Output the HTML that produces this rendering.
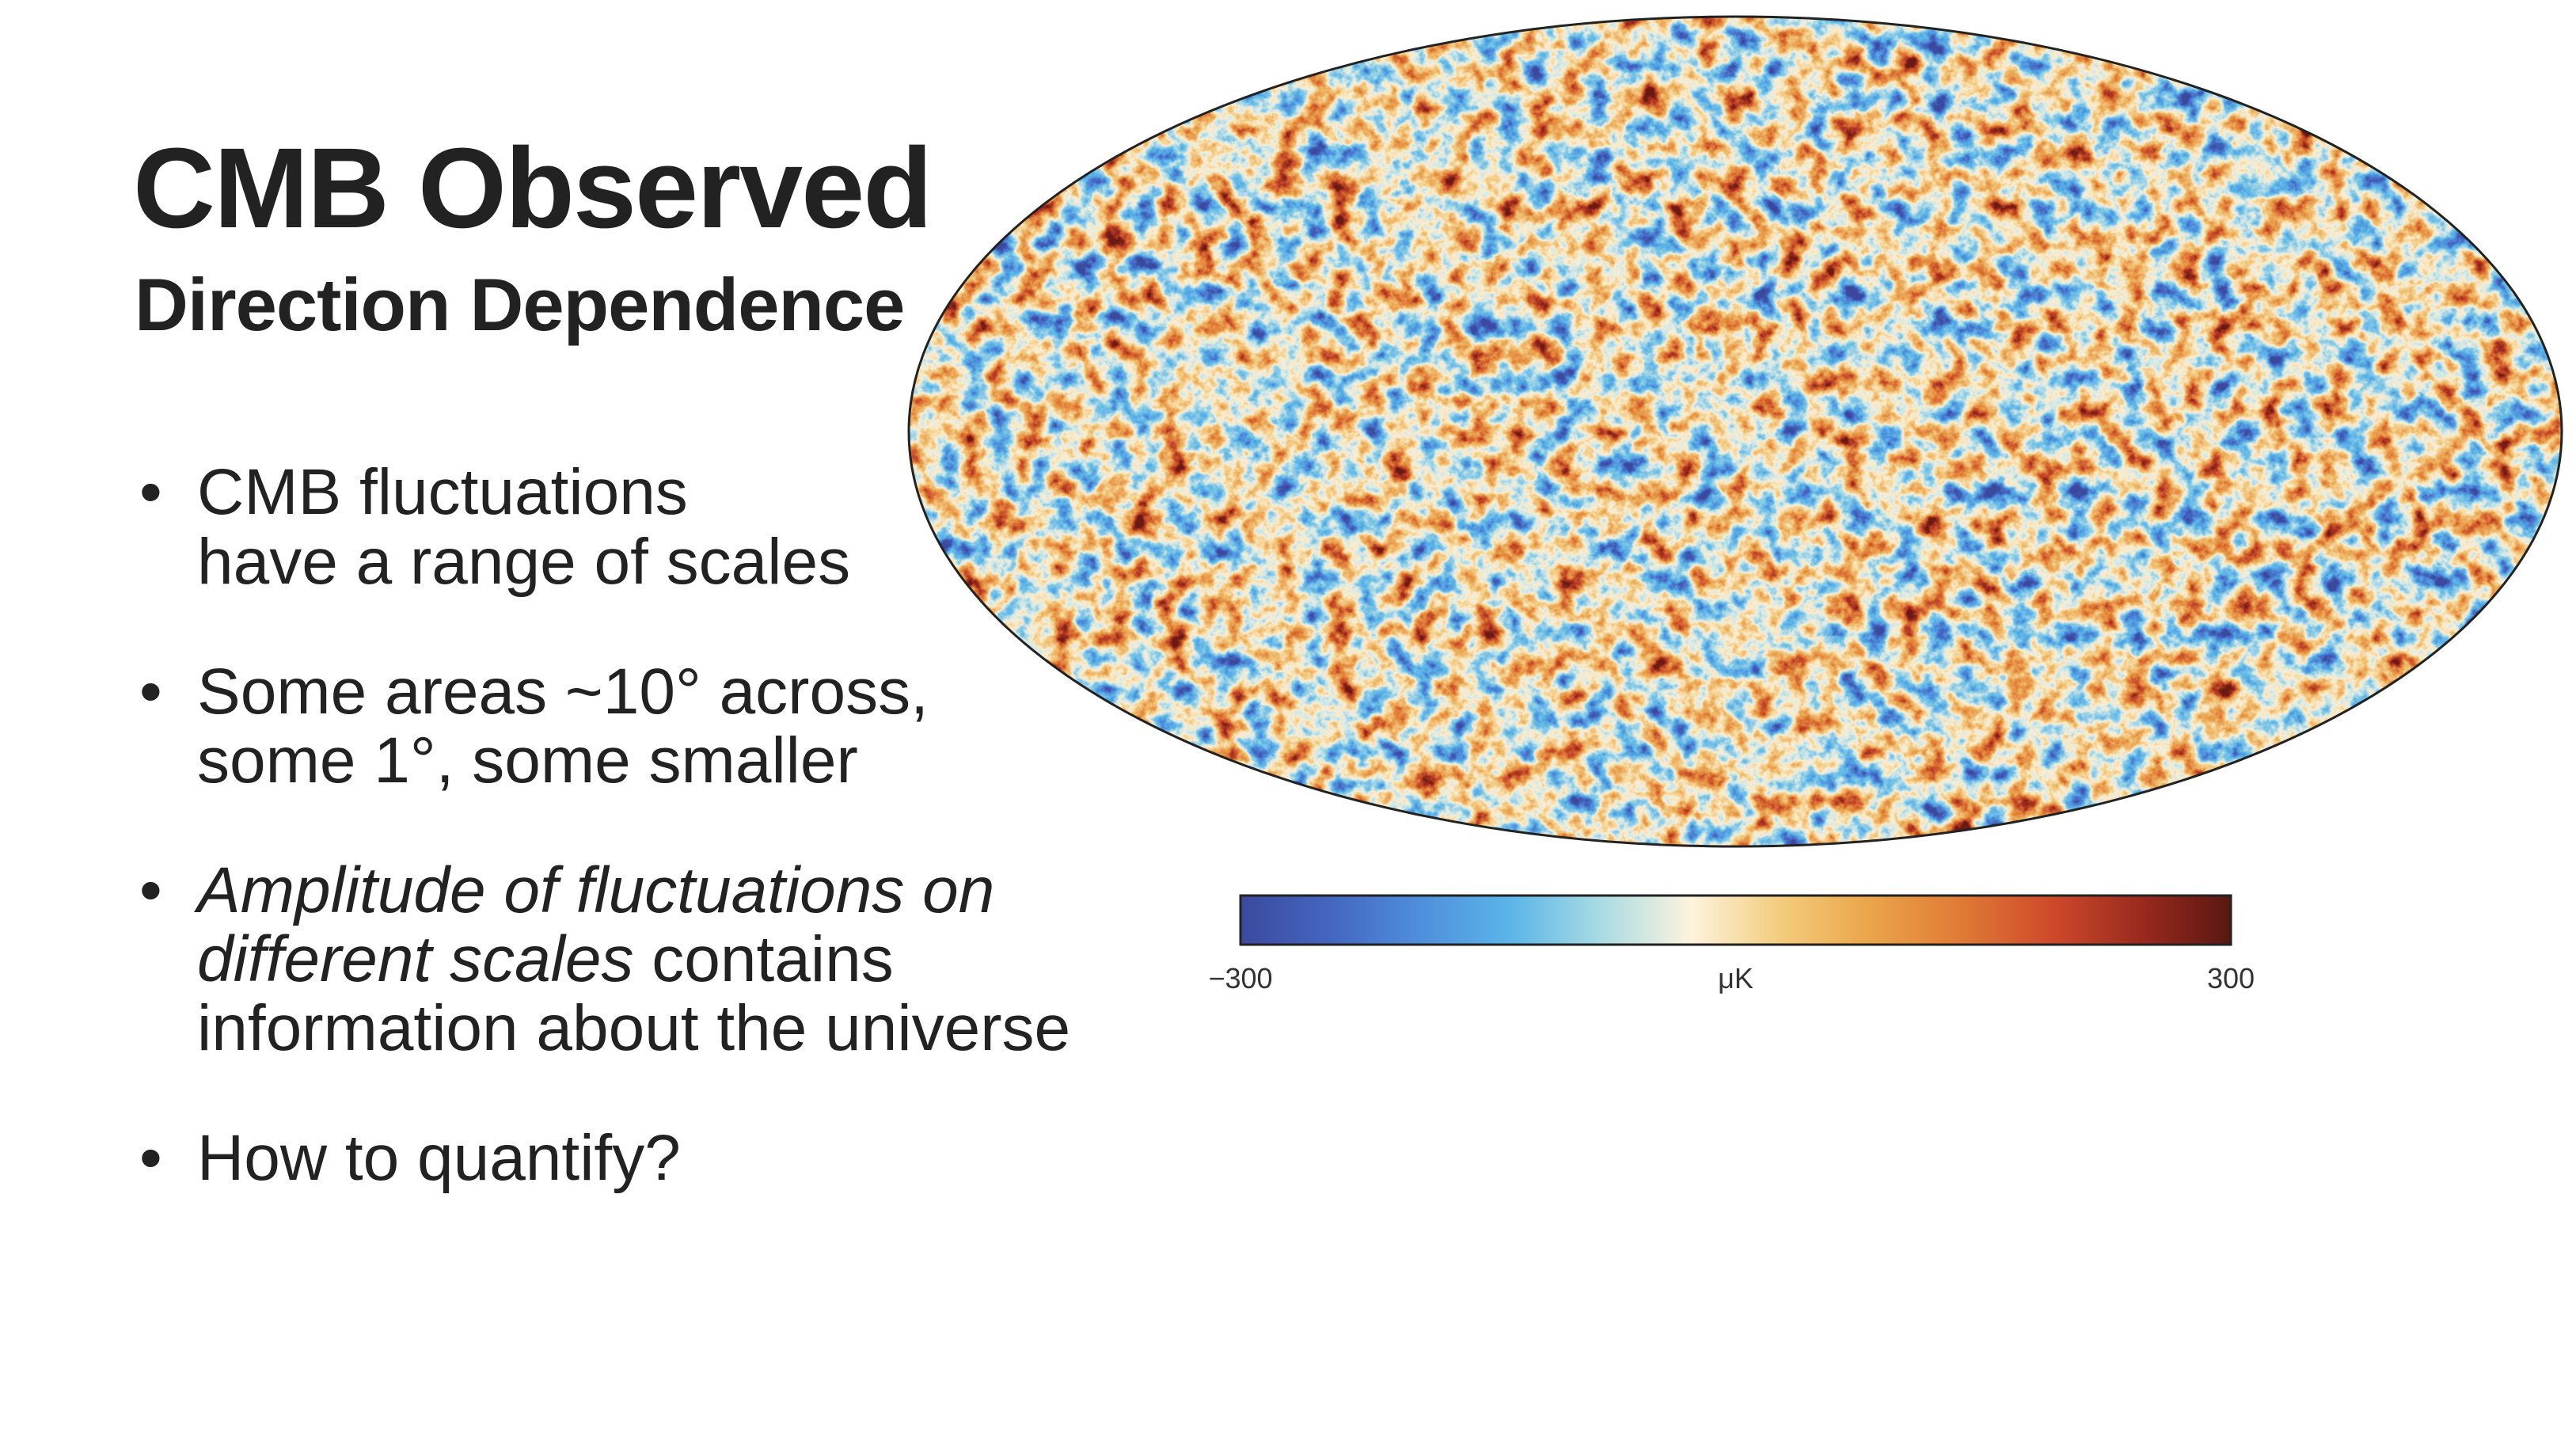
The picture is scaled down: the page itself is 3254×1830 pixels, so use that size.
<!DOCTYPE html>
<html><head><meta charset="utf-8">
<style>
html,body{margin:0;padding:0;background:#fff;}
#page{position:relative;width:3254px;height:1830px;overflow:hidden;background:#fff;font-family:"Liberation Sans",Arial,sans-serif;color:#222;}
.t{position:absolute;white-space:nowrap;}
.b{position:absolute;font-size:82px;line-height:82px;white-space:nowrap;color:#222;}
</style></head>
<body>
<div id="page">
  <div class="t" style="left:168px;top:166px;font-size:144px;line-height:144px;font-weight:bold;letter-spacing:-2px;">CMB Observed</div>
  <div class="t" style="left:170px;top:338px;font-size:94px;line-height:94px;font-weight:bold;letter-spacing:-1px;">Direction Dependence</div>

  <div class="b" style="left:176px;top:581px;">•</div>
  <div class="b" style="left:249px;top:581px;">CMB fluctuations</div>
  <div class="b" style="left:249px;top:669px;">have a range of scales</div>

  <div class="b" style="left:176px;top:833px;">•</div>
  <div class="b" style="left:249px;top:833px;">Some areas ~10° across,</div>
  <div class="b" style="left:249px;top:920px;">some 1°, some smaller</div>

  <div class="b" style="left:176px;top:1084px;">•</div>
  <div class="b" style="left:249px;top:1084px;"><i>Amplitude of fluctuations on</i></div>
  <div class="b" style="left:249px;top:1171px;"><i>different scales</i> contains</div>
  <div class="b" style="left:249px;top:1258px;">information about the universe</div>

  <div class="b" style="left:176px;top:1422px;">•</div>
  <div class="b" style="left:249px;top:1422px;">How to quantify?</div>

  <svg id="chart" width="3254" height="1830" style="position:absolute;left:0;top:0;">
    <defs>
      <filter id="cmb" x="0" y="0" width="100%" height="100%" color-interpolation-filters="sRGB">
        <feTurbulence type="fractalNoise" baseFrequency="0.028" numOctaves="6" seed="7" result="n"/>
        <feColorMatrix in="n" type="matrix" values="1 0 0 0 0  1 0 0 0 0  1 0 0 0 0  0 0 0 0 1" result="g"/>
        <feComponentTransfer in="g" result="s">
          <feFuncR type="linear" slope="1.5" intercept="-0.25"/>
          <feFuncG type="linear" slope="1.5" intercept="-0.25"/>
          <feFuncB type="linear" slope="1.5" intercept="-0.25"/>
        </feComponentTransfer>
        <feComponentTransfer in="s" id="cmap"></feComponentTransfer>
      </filter>
      <clipPath id="ell"><ellipse cx="2192" cy="545" rx="1044" ry="524"/></clipPath>
      <linearGradient id="cbar" x1="0" x2="1" y1="0" y2="0"></linearGradient>
    </defs>
    <g clip-path="url(#ell)">
      <rect x="1148" y="21" width="2090" height="1050" filter="url(#cmb)"/>
    </g>
    <ellipse cx="2192" cy="545" rx="1044" ry="524" fill="none" stroke="#222" stroke-width="3"/>
    <rect x="1567" y="1131" width="1251" height="62" fill="url(#cbar)" stroke="#222" stroke-width="3"/>
    <g id="ticks"></g>
  </svg>
</div>
<script>
const cmapColors = ["#3b4a9e","#4466c0","#4f8fdc","#5bb5e8","#a9dbe3","#fdf3de","#f3cc7c","#eba44a","#e07a36","#cf4a2a","#9a2a1e","#5a1712"];
const mapColors = ["#3b4a9e","#4466c0","#4f8fdc","#5bb5e8","#8ccbe6","#cfe8e8","#fbeed4","#f5d392","#eeb060","#e58a3e","#d05a2e","#a8321f","#6a1a14"];
const tickValues = [-300, 0, 300];
const tickLabels = ["\u2212300", "\u03bcK", "300"];
const NS = "http://www.w3.org/2000/svg";
function hex(c){return [1,3,5].map(i=>parseInt(c.substr(i,2),16)/255);}
const cm = document.getElementById('cmap');
['R','G','B'].forEach((ch,k)=>{
  const f = document.createElementNS(NS,'feFunc'+ch);
  f.setAttribute('type','table');
  f.setAttribute('tableValues', mapColors.map(c=>hex(c)[k].toFixed(3)).join(' '));
  cm.appendChild(f);
});
const gr = document.getElementById('cbar');
cmapColors.forEach((c,i)=>{
  const s = document.createElementNS(NS,'stop');
  s.setAttribute('offset', (i/(cmapColors.length-1)));
  s.setAttribute('stop-color', c);
  gr.appendChild(s);
});
const x0=1567, x1=2818, vmin=-300, vmax=300;
const xs = v => x0 + (v-vmin)/(vmax-vmin)*(x1-x0);
const tg = document.getElementById('ticks');
tickValues.forEach((v,i)=>{
  const t = document.createElementNS(NS,'text');
  
  
  t.setAttribute('x', xs(v));
  t.setAttribute('y', 1248);
  t.setAttribute('text-anchor','middle');
  t.setAttribute('font-family','"Liberation Sans", sans-serif');
  t.setAttribute('font-size','36');
  t.setAttribute('fill','#333');
  t.textContent = tickLabels[i];
  tg.appendChild(t);
});
</script>
</body></html>
